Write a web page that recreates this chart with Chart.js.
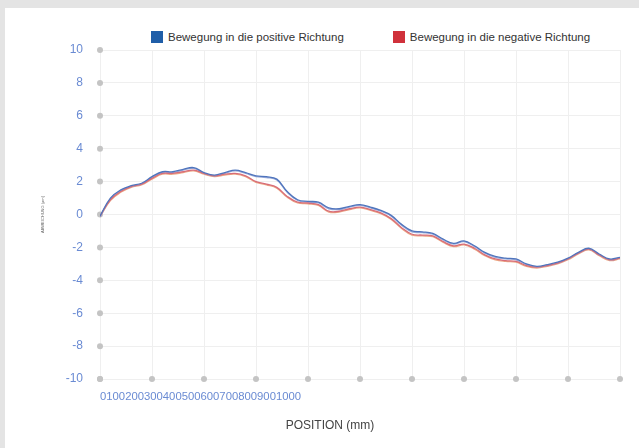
<!DOCTYPE html>
<html>
<head>
<meta charset="utf-8">
<script src="https://cdn.jsdelivr.net/npm/chart.js@4"></script>
<style>
  html, body { margin: 0; padding: 0; }
  body {
    width: 639px; height: 448px; overflow: hidden; position: relative;
    background: #e4e4e4;
    font-family: "Liberation Sans", Arial, sans-serif;
  }
  #card { position: absolute; left: 5px; top: 8px; right: 0; bottom: 0; background: #fff; }
  #chartBox { position: absolute; left: 0; top: 0; width: 634px; height: 440px; }
  #legend {
    position: absolute; left: 146px; top: 23px;
    display: flex; gap: 49px;
    font-size: 11.5px; line-height: 12px; color: #333;
  }
  #legend .item { display: flex; align-items: center; white-space: nowrap; }
  #legend .box { width: 12px; height: 12px; margin-right: 5px; }
</style>
</head>
<body>
<div id="card">
  <div id="legend"></div>
  <div id="chartBox"><canvas id="posChart"></canvas></div>
</div>

<script>
// position along the axis (mm)
const positions = [
  0, 20, 40, 60, 80, 100, 120, 140, 160, 180,
  200, 220, 240, 260, 280, 300, 320, 340, 360, 380,
  400, 420, 440, 460, 480, 500, 520, 540, 560, 580,
  600, 620, 640, 660, 680, 700, 720, 740, 760, 780,
  800, 820, 840, 860, 880, 900, 920, 940, 960, 980, 1000
];

const xTickLabels = ["0", "100", "200", "300", "400", "500", "600", "700", "800", "900", "1000"];

const seriesNames = ["Bewegung in die positive Richtung", "Bewegung in die negative Richtung"];

// two runs per direction
const posRun1 = [
  -0.1, 1.0, 1.5, 1.75, 1.9, 2.3, 2.6, 2.6, 2.75, 2.85,
  2.55, 2.4, 2.55, 2.7, 2.55, 2.35, 2.3, 2.15, 1.4, 0.9,
  0.8, 0.75, 0.4, 0.35, 0.5, 0.6, 0.45, 0.25, -0.05, -0.6,
  -1.0, -1.05, -1.15, -1.5, -1.75, -1.6, -1.9, -2.3, -2.55, -2.65,
  -2.7, -3.0, -3.15, -3.05, -2.9, -2.65, -2.3, -2.05, -2.4, -2.7, -2.6
];
const posRun2 = [
  -0.15, 0.95, 1.45, 1.7, 1.85, 2.25, 2.55, 2.55, 2.7, 2.8,
  2.5, 2.35, 2.5, 2.65, 2.5, 2.3, 2.25, 2.1, 1.35, 0.85,
  0.75, 0.7, 0.35, 0.3, 0.45, 0.55, 0.4, 0.2, -0.1, -0.65,
  -1.05, -1.1, -1.2, -1.55, -1.8, -1.65, -1.95, -2.35, -2.6, -2.7,
  -2.75, -3.05, -3.2, -3.1, -2.95, -2.7, -2.35, -2.1, -2.45, -2.75, -2.65
];
const negRun1 = [
  -0.1, 0.9, 1.4, 1.7, 1.85, 2.2, 2.5, 2.5, 2.6, 2.7,
  2.5, 2.35, 2.45, 2.5, 2.35, 2.0, 1.85, 1.65, 1.1, 0.75,
  0.7, 0.6, 0.2, 0.2, 0.35, 0.45, 0.3, 0.1, -0.25, -0.8,
  -1.2, -1.25, -1.3, -1.65, -1.9, -1.8, -2.05, -2.45, -2.7, -2.8,
  -2.85, -3.1, -3.2, -3.1, -2.95, -2.7, -2.35, -2.1, -2.45, -2.75, -2.65
];
const negRun2 = [
  -0.15, 0.85, 1.35, 1.65, 1.8, 2.15, 2.45, 2.45, 2.55, 2.65,
  2.45, 2.3, 2.4, 2.45, 2.3, 1.95, 1.8, 1.6, 1.05, 0.7,
  0.65, 0.55, 0.15, 0.15, 0.3, 0.4, 0.25, 0.05, -0.3, -0.85,
  -1.25, -1.3, -1.35, -1.7, -1.95, -1.85, -2.1, -2.5, -2.75, -2.85,
  -2.9, -3.15, -3.25, -3.15, -3.0, -2.75, -2.4, -2.15, -2.5, -2.8, -2.7
];

const tickColor = "#6a8bd3";
const gridColor = "#efefef";

Chart.defaults.font.family = '"Liberation Sans", Arial, sans-serif';

function toPoints(values) {
  return positions.map((x, i) => ({ x: x, y: values[i] }));
}

// grey dots where the grid meets the axes
const tickDots = {
  id: "tickDots",
  beforeDatasetsDraw(chart) {
    const { ctx, chartArea, scales } = chart;
    ctx.save();
    ctx.fillStyle = "#c4c4c4";
    scales.y.ticks.forEach(t => {
      ctx.beginPath();
      ctx.arc(chartArea.left, scales.y.getPixelForValue(t.value), 3, 0, Math.PI * 2);
      ctx.fill();
    });
    scales.x.ticks.forEach(t => {
      ctx.beginPath();
      ctx.arc(scales.x.getPixelForValue(t.value), chartArea.bottom, 3, 0, Math.PI * 2);
      ctx.fill();
    });
    ctx.restore();
  }
};

const ctx = document.getElementById("posChart").getContext("2d");
const chart = new Chart(ctx, {
  type: "line",
  data: {
    datasets: [
      { label: seriesNames[0], data: toPoints(posRun1), borderColor: "#5075bd", backgroundColor: "#1f5ea8" },
      { label: seriesNames[1], data: toPoints(negRun1), borderColor: "#d86c78", backgroundColor: "#d0313b" },
      { label: seriesNames[0], data: toPoints(posRun2), borderColor: "#9aabd9", backgroundColor: "#9aabd9" },
      { label: seriesNames[1], data: toPoints(negRun2), borderColor: "#eca884", backgroundColor: "#eca884" }
    ]
  },
  options: {
    responsive: true,
    maintainAspectRatio: false,
    animation: false,
    layout: { padding: { left: 35, right: 19, top: 42, bottom: 0 } },
    elements: {
      point: { radius: 0 },
      line: { borderWidth: 1.3, tension: 0.4, fill: false }
    },
    plugins: {
      legend: { display: false },
      tooltip: { enabled: false },
      title: {
        display: true,
        position: "bottom",
        text: "POSITION (mm)",
        color: "#444",
        font: { size: 12, weight: "normal" },
        padding: { top: 4, bottom: 15 }
      }
    },
    scales: {
      x: {
        type: "linear",
        min: 0,
        max: 1000,
        grid: { color: gridColor, drawTicks: false },
        border: { color: gridColor },
        ticks: {
          stepSize: 100,
          autoSkip: false,
          maxRotation: 0,
          minRotation: 0,
          align: "start",
          padding: 11,
          color: tickColor,
          font: { size: 11.3 },
          // labels come out packed together at the first tick
          callback: (value, index) => index === 0 ? xTickLabels.join("") : ""
        }
      },
      y: {
        min: -10,
        max: 10,
        grid: { color: gridColor, drawTicks: false },
        border: { color: gridColor },
        ticks: { stepSize: 2, padding: 17, color: tickColor, font: { size: 12 } },
        title: {
          display: true,
          text: "ABWEICHUNG (µm)",
          color: "#666",
          font: { size: 4 },
          padding: 0
        },
        afterFit: scale => { scale.width = 60; }
      }
    }
  },
  plugins: [tickDots]
});

// legend: one entry per direction
const legendEl = document.getElementById("legend");
chart.data.datasets.slice(0, 2).forEach(ds => {
  const item = document.createElement("div");
  item.className = "item";
  const box = document.createElement("span");
  box.className = "box";
  box.style.background = ds.backgroundColor;
  item.appendChild(box);
  const txt = document.createElement("span");
  txt.textContent = ds.label;
  item.appendChild(txt);
  legendEl.appendChild(item);
});
</script>
</body>
</html>
